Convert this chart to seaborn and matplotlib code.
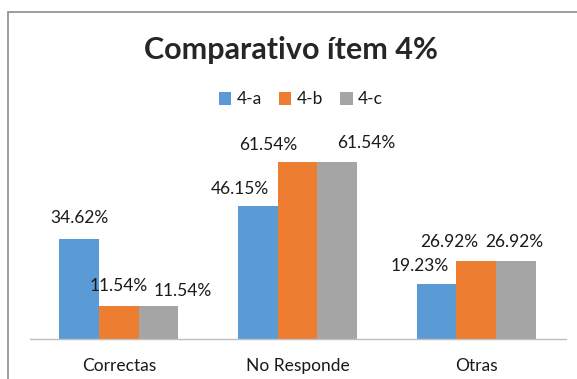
import matplotlib
matplotlib.use("Agg")
import matplotlib.pyplot as plt
from matplotlib.patches import Rectangle
import seaborn as sns
import pandas as pd

# --- data ---------------------------------------------------------------
categories = ["Correctas", "No Responde", "Otras"]
series = ["4-a", "4-b", "4-c"]
values_4a = [34.62, 46.15, 19.23]
values_4b = [11.54, 61.54, 26.92]
values_4c = [11.54, 61.54, 26.92]
title = "Comparativo ítem 4%"

# --- style --------------------------------------------------------------
colors = ["#5B9BD5", "#ED7D31", "#A5A5A5"]
# label offsets (pixels) from each bar's top centre, per series then category
label_offsets = {
    "4-a": [(0, 21), (-18, 17), (-17, 18)],
    "4-b": [(0, 20), (-29, 17), (-27, 19)],
    "4-c": [(24, 15), (29, 19), (-2, 19)],
}

W, H = 577, 379
sns.set_theme(style="white")
plt.rcParams["font.family"] = ["Lato", "DejaVu Sans"]
FS = 12.5

rows = []
for name, vals in zip(series, [values_4a, values_4b, values_4c]):
    for cat, v in zip(categories, vals):
        rows.append({"categoria": cat, "serie": name, "valor": v})
df = pd.DataFrame(rows)

fig = plt.figure(figsize=(W / 100, H / 100), dpi=100)
ax = fig.add_axes([29.5 / W, (H - 339) / H, 536 / W, 201.6 / H])

sns.barplot(data=df, x="categoria", y="valor", hue="serie", order=categories,
            hue_order=series, palette=colors, saturation=1, width=0.667,
            linewidth=0, ax=ax, legend=True)

ax.set_ylim(0, 70)
ax.set_xlim(-0.5, 2.5)
ax.set_xlabel("")
ax.set_ylabel("")
ax.set_yticks([])
for side in ["top", "right", "left"]:
    ax.spines[side].set_visible(False)
ax.spines["bottom"].set_color("#BFBFBF")
ax.spines["bottom"].set_linewidth(1)
ax.tick_params(axis="x", length=0, pad=14, labelsize=FS, labelcolor="#1a1a1a")

# value labels
for container, name in zip(ax.containers, series):
    for bar, (dx, dy) in zip(container, label_offsets[name]):
        h = bar.get_height()
        ax.annotate(f"{h:.2f}%", xy=(bar.get_x() + bar.get_width() / 2, h),
                    xytext=(dx, dy), textcoords="offset pixels",
                    ha="center", va="center", fontsize=FS, color="#1a1a1a")

# legend above the plot
handles, labels = ax.get_legend_handles_labels()
ax.get_legend().remove()
fig.legend(handles, labels, loc="center", bbox_to_anchor=(301 / W, 1 - 99.5 / H),
           ncol=3, frameon=False, fontsize=FS, handlelength=0.7,
           handleheight=0.7, handletextpad=0.3, columnspacing=1.0,
           labelcolor="#1a1a1a")

fig.text(291 / W, 1 - 59.3 / H, title, ha="center", va="baseline",
         fontsize=22, fontweight="bold", color="#262626")

# chart frame
fig.patches.append(Rectangle((8 / W, -0.1), 1.2, 1 - 12 / H + 0.1,
                             transform=fig.transFigure, fill=False,
                             edgecolor="#8C8C8C", linewidth=1.2))

fig.savefig("out.png", dpi=100, facecolor="white")
